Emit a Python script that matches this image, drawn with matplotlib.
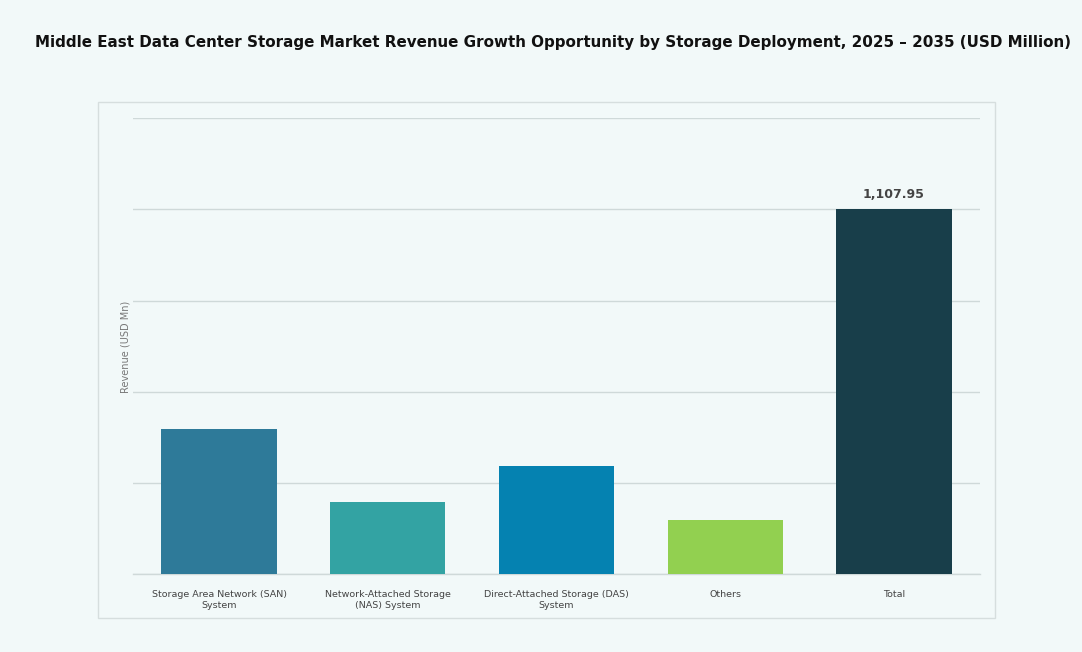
import numpy as np
import matplotlib.pyplot as plt
from matplotlib.patches import Rectangle

categories = ['Storage Area Network (SAN)\nSystem',
              'Network-Attached Storage\n(NAS) System',
              'Direct-Attached Storage (DAS)\nSystem',
              'Others',
              'Total']
revenue = [439.8, 219.3, 329.4, 164.7, 1107.95]
colors = ['#2e7a99', '#33a3a3', '#0582b1', '#92d050', '#183e4a']

bg = '#f2f9f9'
fig = plt.figure(figsize=(10.82, 6.52), dpi=100, facecolor=bg)

# outer frame around the chart
fig.patches.append(Rectangle((98 / 1082, 1 - 618 / 652), (995 - 98) / 1082, (618 - 102) / 652,
                             transform=fig.transFigure, fill=False,
                             edgecolor='#d6dede', linewidth=1.0))

ax = fig.add_axes([133 / 1082, 1 - 574.3 / 652, 847 / 1082, 456 / 652])
ax.set_facecolor(bg)

x = np.arange(len(categories))
ax.bar(x, revenue, width=0.683, color=colors, zorder=3)

top = revenue[-1] * 1.25
ax.set_ylim(0, top)
ax.set_xlim(-0.51, len(categories) - 0.49)
ax.set_yticks(np.linspace(0, top, 6))
ax.yaxis.grid(True, color='#cfd9d9', linewidth=1.0, zorder=0)
ax.axhline(0, color='#cfd9d9', linewidth=1.0, zorder=1, clip_on=False)
ax.tick_params(axis='y', left=False, labelleft=False)
ax.tick_params(axis='x', bottom=False, pad=8)
for s in ax.spines.values():
    s.set_visible(False)

ax.set_xticks(x)
ax.set_xticklabels(categories, fontsize=6.8, color='#444444', linespacing=1.2,
                   family='DejaVu Sans')

ax.text(x[-1], revenue[-1] + 25, f'{revenue[-1]:,.2f}', ha='center', va='bottom',
        fontsize=9, color='#444444', fontweight='semibold')

fig.text(125 / 1082, 1 - 347 / 652, 'Revenue (USD Mn)', rotation=90, ha='center', va='center',
         fontsize=7, color='#777777')

fig.text(35 / 1082, 1 - 43 / 652,
         'Middle East Data Center Storage Market Revenue Growth Opportunity by Storage Deployment, 2025 – 2035 (USD Million)',
         ha='left', va='center', fontsize=10.9, fontweight='bold', color='#111111')

fig.savefig('out.png', dpi=100, facecolor=bg)
